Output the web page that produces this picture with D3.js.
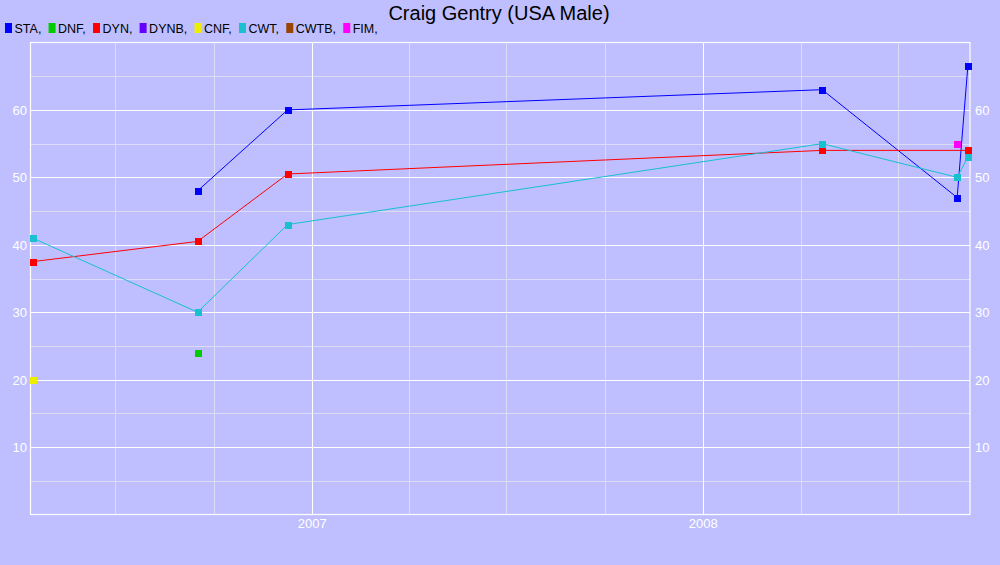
<!DOCTYPE html>
<html><head><meta charset="utf-8">
<script src="https://cdn.jsdelivr.net/npm/d3@7/dist/d3.min.js"></script>
<style>body{margin:0;background:#BFBFFF;}svg{display:block;font-family:"Liberation Sans",Arial,sans-serif;}</style>
</head><body><svg id="c" width="1000" height="565"></svg>
<script>
const dates = ["2006-04-15","2006-09-16","2006-12-09","2008-04-21","2008-08-25","2008-09-04"];
const seriesNames = ["STA","DNF","DYN","DYNB","CNF","CWT","CWTB","FIM"];
const seriesColors = ["#0000FF","#00CC00","#FF0000","#6600FF","#EEEE00","#18C0D0","#994400","#FF00FF"];
const STA  = [null, 48, 60, 63, 47, 66.5];
const DNF  = [null, 24, null, null, null, null];
const DYN  = [37.5, 40.5, 50.5, 54, null, 54];
const DYNB = [null, null, null, null, null, null];
const CNF  = [20, null, null, null, null, null];
const CWT  = [41, 30, 43, 55, 50, 53];
const CWTB = [null, null, null, null, null, null];
const FIM  = [null, null, null, null, 55, null];
const yTicks = [10,20,30,40,50,60];
const xTickLabels = ["2007","2008"];
const xDomain = ["2006-04-13","2008-09-06"];
const yDomain = [0,70];

const values = [STA,DNF,DYN,DYNB,CNF,CWT,CWTB,FIM];
const parse = d3.utcParse("%Y-%m-%d");
const svg = d3.select("#c");
const L=30.5, R=970, T=42.5, B=514.5;
const x = d3.scaleUtc().domain(xDomain.map(parse)).range([L,R]);
const y = d3.scaleLinear().domain(yDomain).range([B,T]);

// minor grid
const minorX = d3.utcMonth.every(3).range(x.domain()[0], x.domain()[1]).filter(d=>d.getUTCMonth()!==0);
svg.append("g").selectAll("line").data(minorX).join("line")
  .attr("x1",d=>Math.round(x(d))+0.5).attr("x2",d=>Math.round(x(d))+0.5).attr("y1",T).attr("y2",B)
  .attr("stroke","#DCDCF4").attr("stroke-width",1);
const minorY = d3.range(5,70,10);
svg.append("g").selectAll("line").data(minorY).join("line")
  .attr("x1",L).attr("x2",R).attr("y1",d=>Math.round(y(d))+0.5).attr("y2",d=>Math.round(y(d))+0.5)
  .attr("stroke","#DCDCF4").attr("stroke-width",1);
// major grid
const years = xTickLabels.map(s=>d3.utcParse("%Y")(s));
svg.append("g").selectAll("line").data(years).join("line")
  .attr("x1",d=>Math.round(x(d))+0.5).attr("x2",d=>Math.round(x(d))+0.5).attr("y1",T).attr("y2",B)
  .attr("stroke","#FFFFFF").attr("stroke-width",1);
svg.append("g").selectAll("line").data(yTicks).join("line")
  .attr("x1",L).attr("x2",R).attr("y1",d=>Math.round(y(d))+0.5).attr("y2",d=>Math.round(y(d))+0.5)
  .attr("stroke","#FFFFFF").attr("stroke-width",1);
// border
svg.append("rect").attr("x",L).attr("y",T).attr("width",R-L).attr("height",B-T)
  .attr("fill","none").attr("stroke","#FFFFFF").attr("stroke-width",1.2);

// axes labels
const lab = svg.append("g").attr("fill","#FFFFFF").attr("font-size",13);
lab.selectAll("text.l").data(yTicks).join("text").attr("class","l")
  .attr("x",27).attr("y",d=>y(d)+5).attr("text-anchor","end").text(d=>d);
lab.selectAll("text.r").data(yTicks).join("text").attr("class","r")
  .attr("x",975).attr("y",d=>y(d)+5).attr("text-anchor","start").text(d=>d);
lab.selectAll("text.x").data(years).join("text").attr("class","x")
  .attr("x",d=>x(d)).attr("y",528).attr("text-anchor","middle").text((d,i)=>xTickLabels[i]);

// series
const pts = dates.map(parse);
const line = d3.line().x(d=>x(d[0])).y(d=>y(d[1]));
values.forEach((vals,i)=>{
  const data = pts.map((d,j)=>[d,vals[j]]).filter(d=>d[1]!=null);
  if(data.length>1) svg.append("path").attr("d",line(data)).attr("fill","none")
    .attr("stroke",seriesColors[i]).attr("stroke-width",1);
});
values.forEach((vals,i)=>{
  const data = pts.map((d,j)=>[d,vals[j]]).filter(d=>d[1]!=null);
  svg.append("g").selectAll("rect").data(data).join("rect")
    .attr("x",d=>Math.round(x(d[0]))-3).attr("y",d=>Math.round(y(d[1]))-3)
    .attr("width",7).attr("height",7).attr("fill",seriesColors[i]);
});

// title
svg.append("text").attr("x",499).attr("y",20).attr("text-anchor","middle")
  .attr("font-size",20).attr("fill","#000").text("Craig Gentry (USA Male)");

// legend
let lx = 5;
const lg = svg.append("g");
seriesNames.forEach((n,i)=>{
  lg.append("rect").attr("x",lx).attr("y",23).attr("width",7).attr("height",10).attr("fill",seriesColors[i]);
  const t = lg.append("text").attr("x",lx+9.5).attr("y",32.5).attr("font-size",12.5).attr("fill","#000").text(n+",");
  lx += 9.5 + t.node().getComputedTextLength() + 7.2;
});
</script></body></html>
